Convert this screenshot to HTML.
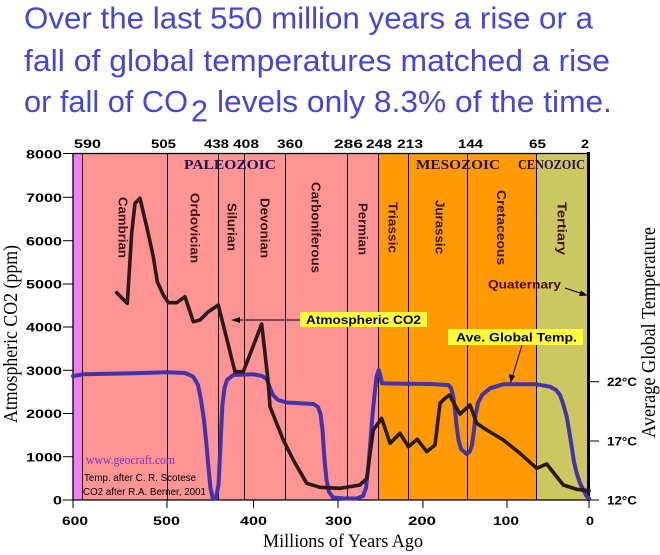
<!DOCTYPE html>
<html><head><meta charset="utf-8">
<style>
html,body{margin:0;padding:0;background:#fff;}
svg{display:block;}
</style></head>
<body>
<svg width="660" height="555" viewBox="0 0 660 555" xmlns="http://www.w3.org/2000/svg">
<rect x="0" y="0" width="660" height="555" fill="#fff"/>

<!-- Title -->
<g font-family="'Liberation Sans', sans-serif" font-size="31" fill="#4646d6">
<text x="24" y="28.5" textLength="569" lengthAdjust="spacingAndGlyphs">Over the last 550 million years a rise or a</text>
<text x="24" y="71" textLength="586" lengthAdjust="spacingAndGlyphs">fall of global temperatures matched a rise</text>
<text x="24" y="112" textLength="164" lengthAdjust="spacingAndGlyphs">or fall of CO</text>
<text x="191" y="121.5" textLength="17" lengthAdjust="spacingAndGlyphs">2</text>
<text x="217" y="112" textLength="395" lengthAdjust="spacingAndGlyphs">levels only 8.3% of the time.</text>
</g>

<!-- Background regions -->
<rect x="73" y="153" width="9.5" height="347" fill="#f080f0"/>
<rect x="82.5" y="153" width="296.5" height="347" fill="#ff9494"/>
<rect x="379" y="153" width="158" height="347" fill="#ff9a05"/>
<rect x="537" y="153" width="51" height="347" fill="#cbc862"/>

<!-- Period lines -->
<g stroke="#000" stroke-width="1">
<line x1="82.5" y1="153" x2="82.5" y2="500"/>
<line x1="167.5" y1="153" x2="167.5" y2="500"/>
<line x1="218.5" y1="153" x2="218.5" y2="500"/>
<line x1="244.5" y1="153" x2="244.5" y2="500"/>
<line x1="285.5" y1="153" x2="285.5" y2="500"/>
<line x1="347.5" y1="153" x2="347.5" y2="500"/>
<line x1="378.5" y1="153" x2="378.5" y2="500"/>
<line x1="408.5" y1="153" x2="408.5" y2="500"/>
<line x1="467.5" y1="153" x2="467.5" y2="500"/>
<line x1="536.5" y1="153" x2="536.5" y2="500"/>
</g>

<!-- Axes -->
<g stroke="#000">
<line x1="73" y1="153.5" x2="589" y2="153.5" stroke-width="1.2"/>
<line x1="73" y1="153" x2="73" y2="501" stroke-width="1.3"/>
<line x1="73" y1="500" x2="589" y2="500" stroke-width="1.3"/>
<line x1="588.5" y1="152" x2="588.5" y2="501" stroke-width="3"/>
<line x1="63" y1="153.5" x2="73" y2="153.5"/>
<line x1="63" y1="197.3" x2="73" y2="197.3"/>
<line x1="63" y1="240.7" x2="73" y2="240.7"/>
<line x1="63" y1="284" x2="73" y2="284"/>
<line x1="63" y1="327" x2="73" y2="327"/>
<line x1="63" y1="370.3" x2="73" y2="370.3"/>
<line x1="63" y1="413.5" x2="73" y2="413.5"/>
<line x1="63" y1="456.7" x2="73" y2="456.7"/>
<line x1="63" y1="500" x2="73" y2="500"/>
<line x1="73" y1="500" x2="73" y2="508"/>
<line x1="167" y1="500" x2="167" y2="508"/>
<line x1="253.5" y1="500" x2="253.5" y2="508"/>
<line x1="338" y1="500" x2="338" y2="508"/>
<line x1="423" y1="500" x2="423" y2="508"/>
<line x1="507" y1="500" x2="507" y2="508"/>
<line x1="589" y1="500" x2="589" y2="508"/>
<line x1="589" y1="381.7" x2="599" y2="381.7"/>
<line x1="589" y1="441" x2="599" y2="441"/>
<line x1="589" y1="500" x2="599" y2="500"/>
</g>

<!-- Top labels -->
<g font-family="'Liberation Sans', sans-serif" font-weight="bold" font-size="12" fill="#000">
<text x="74" y="148" textLength="27" lengthAdjust="spacingAndGlyphs">590</text>
<text x="151" y="148" textLength="25" lengthAdjust="spacingAndGlyphs">505</text>
<text x="204" y="148" textLength="25" lengthAdjust="spacingAndGlyphs">438</text>
<text x="233" y="148" textLength="26" lengthAdjust="spacingAndGlyphs">408</text>
<text x="277" y="148" textLength="26" lengthAdjust="spacingAndGlyphs">360</text>
<text x="334" y="148" textLength="29" lengthAdjust="spacingAndGlyphs">286</text>
<text x="366" y="148" textLength="26" lengthAdjust="spacingAndGlyphs">248</text>
<text x="397" y="148" textLength="26" lengthAdjust="spacingAndGlyphs">213</text>
<text x="458" y="148" textLength="25" lengthAdjust="spacingAndGlyphs">144</text>
<text x="529" y="148" textLength="17" lengthAdjust="spacingAndGlyphs">65</text>
<text x="581" y="148" textLength="8" lengthAdjust="spacingAndGlyphs">2</text>
</g>

<!-- Left axis labels -->
<g font-family="'Liberation Sans', sans-serif" font-weight="bold" font-size="12" fill="#000">
<text x="26" y="158.5" textLength="36" lengthAdjust="spacingAndGlyphs">8000</text>
<text x="26" y="202" textLength="36" lengthAdjust="spacingAndGlyphs">7000</text>
<text x="26" y="245.3" textLength="36" lengthAdjust="spacingAndGlyphs">6000</text>
<text x="26" y="288.5" textLength="36" lengthAdjust="spacingAndGlyphs">5000</text>
<text x="26" y="331.5" textLength="36" lengthAdjust="spacingAndGlyphs">4000</text>
<text x="26" y="375" textLength="36" lengthAdjust="spacingAndGlyphs">3000</text>
<text x="26" y="418" textLength="36" lengthAdjust="spacingAndGlyphs">2000</text>
<text x="26" y="461.3" textLength="36" lengthAdjust="spacingAndGlyphs">1000</text>
<text x="53" y="504.5" textLength="9" lengthAdjust="spacingAndGlyphs">0</text>
</g>

<!-- Bottom axis labels -->
<g font-family="'Liberation Sans', sans-serif" font-weight="bold" font-size="12" fill="#000">
<text x="62" y="525" textLength="26" lengthAdjust="spacingAndGlyphs">600</text>
<text x="153" y="525" textLength="27" lengthAdjust="spacingAndGlyphs">500</text>
<text x="240" y="525" textLength="27" lengthAdjust="spacingAndGlyphs">400</text>
<text x="325" y="525" textLength="27" lengthAdjust="spacingAndGlyphs">300</text>
<text x="408" y="525" textLength="28" lengthAdjust="spacingAndGlyphs">200</text>
<text x="493" y="525" textLength="26" lengthAdjust="spacingAndGlyphs">100</text>
<text x="586" y="525" textLength="8" lengthAdjust="spacingAndGlyphs">0</text>
</g>

<!-- Right axis labels -->
<g font-family="'Liberation Sans', sans-serif" font-weight="bold" font-size="12" fill="#000">
<text x="607" y="386.2" textLength="30" lengthAdjust="spacingAndGlyphs">22°C</text>
<text x="607" y="445.5" textLength="30" lengthAdjust="spacingAndGlyphs">17°C</text>
<text x="607" y="504.5" textLength="30" lengthAdjust="spacingAndGlyphs">12°C</text>
</g>

<!-- Axis titles -->
<g font-family="'Liberation Serif', serif" fill="#000">
<text x="263" y="547" font-size="19" textLength="160" lengthAdjust="spacingAndGlyphs">Millions of Years Ago</text>
<text transform="translate(17,423) rotate(-90)" x="0" y="0" font-size="20" textLength="178" lengthAdjust="spacingAndGlyphs">Atmospheric CO2 (ppm)</text>
<text transform="translate(655,438) rotate(-90)" x="0" y="0" font-size="20" textLength="211" lengthAdjust="spacingAndGlyphs">Average Global Temperature</text>
</g>

<!-- Era labels -->
<g font-family="'Liberation Serif', serif" font-weight="bold" font-size="13.5" fill="#221155">
<text x="184" y="169" textLength="92" lengthAdjust="spacingAndGlyphs">PALEOZOIC</text>
<text x="416" y="169" textLength="84" lengthAdjust="spacingAndGlyphs">MESOZOIC</text>
<text x="518" y="169" textLength="67" lengthAdjust="spacingAndGlyphs">CENOZOIC</text>
</g>

<!-- Period labels (vertical) -->
<g font-family="'Liberation Sans', sans-serif" font-weight="bold" font-size="12.5" fill="#3a1616">
<text transform="translate(123,197) rotate(90)" x="0" y="4.5" textLength="61" lengthAdjust="spacingAndGlyphs">Cambrian</text>
<text transform="translate(195,193) rotate(90)" x="0" y="4.5" textLength="70" lengthAdjust="spacingAndGlyphs">Ordovician</text>
<text transform="translate(232,203) rotate(90)" x="0" y="4.5" textLength="48" lengthAdjust="spacingAndGlyphs">Silurian</text>
<text transform="translate(265,198) rotate(90)" x="0" y="4.5" textLength="60" lengthAdjust="spacingAndGlyphs">Devonian</text>
<text transform="translate(316,182) rotate(90)" x="0" y="4.5" textLength="91" lengthAdjust="spacingAndGlyphs">Carboniferous</text>
<text transform="translate(363,203) rotate(90)" x="0" y="4.5" textLength="52" lengthAdjust="spacingAndGlyphs">Permian</text>
<text transform="translate(393,202) rotate(90)" x="0" y="4.5" textLength="51" lengthAdjust="spacingAndGlyphs">Triassic</text>
<text transform="translate(440,200) rotate(90)" x="0" y="4.5" textLength="54" lengthAdjust="spacingAndGlyphs">Jurassic</text>
<text transform="translate(501.5,190) rotate(90)" x="0" y="4.5" textLength="75" lengthAdjust="spacingAndGlyphs">Cretaceous</text>
<text transform="translate(562,202) rotate(90)" x="0" y="4.5" textLength="53" lengthAdjust="spacingAndGlyphs">Tertiary</text>
</g>

<!-- Credits -->
<text x="86" y="464" font-family="'Liberation Serif', serif" font-size="12.5" fill="#7733cc" textLength="89" lengthAdjust="spacingAndGlyphs">www.geocraft.com</text>
<text x="84" y="481" font-family="'Liberation Sans', sans-serif" font-size="10" fill="#000" textLength="112" lengthAdjust="spacingAndGlyphs">Temp. after C. R. Scotese</text>
<text x="83" y="495" font-family="'Liberation Sans', sans-serif" font-size="10" fill="#000" textLength="123" lengthAdjust="spacingAndGlyphs">CO2 after R.A. Berner, 2001</text>

<!-- Temperature curve -->
<polyline fill="none" stroke="#4433aa" stroke-width="4" stroke-linejoin="round" stroke-linecap="round"
points="73,376 83.3,374.3 133.3,373.3 166.7,372.3 185,373 193.3,376.7 198,385 201,400 204,420 206.5,445 208.5,468 210.5,488 213,499 216,498 218.5,485 220.5,445 222.3,406 224.5,388 227,380 233.3,375 253.3,374.3 262,376 266.7,379 270,388 273,395 278,400 286.7,402.5 313.3,404 318,407 320.5,414 322.5,430 324.5,460 326.5,480 329,492 333,497.5 345,498.5 357,498.5 363,496 366,488 368.5,465 370.5,440 372.5,415 374.5,395 376.5,377 378.7,370 380.5,376 382,383.3 390,383.5 430,384 448.3,385 451,388 453.3,396.7 455,410 456.5,425 458.5,440 461,449 466.7,454 470,451 472,445 474,430 475.5,415 478,403 482,395 490,388.3 503.3,384.3 536.7,384.3 550,386.7 556,390 560,395 563.5,405 566.7,416.7 569,430 571.7,446.7 574,462 576.7,473.3 580,483 583.3,490 586.5,496 589,498.5"/>

<!-- CO2 curve -->
<polyline fill="none" stroke="#2b1a1a" stroke-width="3.6" stroke-linejoin="round" stroke-linecap="round"
points="116.7,292.7 127.3,303.3 131.7,233 135,203.3 140,198.3 146.7,226.7 153.3,256.7 157.3,281.7 163.3,295 168.3,302.7 176.7,302.7 185,296.7 193.3,321.7 200,320 208.3,311.7 218.3,305 235,371.7 243.3,371.7 261.7,324 268.3,383 270,406.7 283.3,440 293.3,460 306.7,483.3 320,487.3 340,488.3 360,485 366.7,478.3 373.3,430 381.7,418.3 390,443.3 400,433.3 408.3,446.7 417.3,439.3 426.7,451.7 435,445 440,403.3 445,398.3 449.3,395 460,414 470,405 476.7,423.3 486.7,430 503.3,440 520,453.3 536.7,468.3 546.7,464 563.3,485 576.7,489.3 589,490.7"/>

<!-- Atmospheric CO2 label -->
<rect x="300" y="312" width="127" height="15" fill="#ffff3c"/>
<text x="306" y="324" font-family="'Liberation Sans', sans-serif" font-weight="bold" font-size="12" fill="#000" textLength="115" lengthAdjust="spacingAndGlyphs">Atmospheric CO2</text>
<line x1="300" y1="320" x2="236" y2="320" stroke="#000" stroke-width="1"/>
<polygon points="231,320 240,317 240,323" fill="#000"/>

<!-- Ave Global Temp label -->
<rect x="448" y="329" width="135" height="16" fill="#ffff3c"/>
<text x="456" y="341.5" font-family="'Liberation Sans', sans-serif" font-weight="bold" font-size="12" fill="#000" textLength="121" lengthAdjust="spacingAndGlyphs">Ave. Global Temp.</text>
<line x1="522" y1="345" x2="512" y2="378" stroke="#000" stroke-width="1"/>
<polygon points="510.5,383 509,374 515,376" fill="#000"/>

<!-- Quaternary -->
<text x="488" y="288.5" font-family="'Liberation Sans', sans-serif" font-weight="bold" font-size="12" fill="#441111" textLength="73" lengthAdjust="spacingAndGlyphs">Quaternary</text>
<line x1="565" y1="288" x2="583" y2="294" stroke="#000" stroke-width="1"/>
<polygon points="587.5,295.5 579,296 581,290.5" fill="#000"/>
</svg>
</body></html>
